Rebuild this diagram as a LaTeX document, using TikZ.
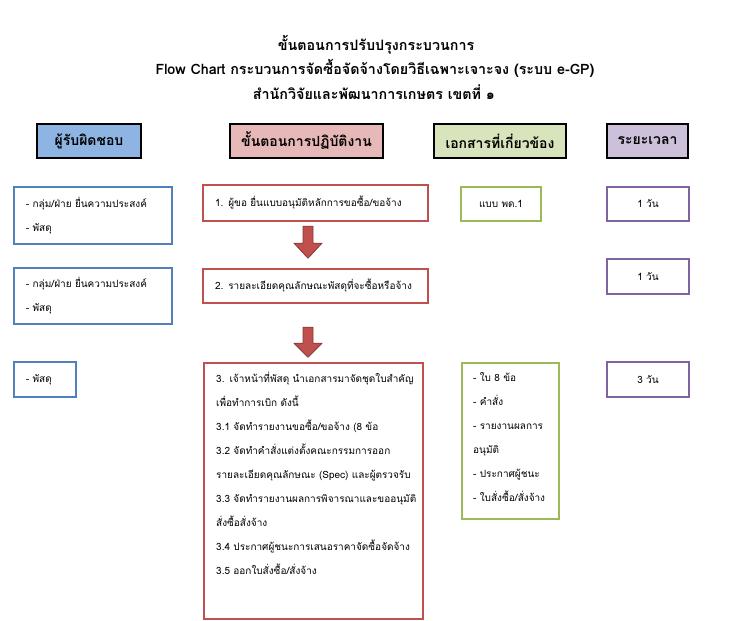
\documentclass[tikz,border=0pt]{standalone}
\usepackage{fontspec}
\setmainfont[Script=Thai]{Loma}
\usetikzlibrary{positioning}
\definecolor{hblue}{HTML}{8DB4E2}
\definecolor{hred}{HTML}{E6B8B7}
\definecolor{hgreen}{HTML}{D7E4BC}
\definecolor{hpurple}{HTML}{CCC0DA}
\definecolor{lblue}{HTML}{4F81BD}
\definecolor{lred}{HTML}{C0504D}
\definecolor{lgreen}{HTML}{9BBB59}
\definecolor{lpurple}{HTML}{8064A2}
\definecolor{adark}{HTML}{8C3836}
\tikzset{
  titletext/.style={font=\fontsize{14.3}{16}\selectfont\bfseries, inner sep=0},
  headbox/.style={draw=black, line width=2.6pt, minimum height=34, inner sep=0,
    font=\fontsize{14}{16}\selectfont\bfseries},
  cellbox/.style={draw, line width=2.4pt, inner xsep=12, inner ysep=0,
    font=\fontsize{10}{24}\selectfont, align=left},
  bigarrow/.style={fill=lred, draw=adark, line width=0.8pt, line join=round}
}
\begin{document}
\begin{tikzpicture}[x=1pt, y=-1pt]
\useasboundingbox (0,0) rectangle (732,621);
% title
\node[titletext] (t1) at (376,45) {ขั้นตอนการปรับปรุงกระบวนการ};
\node[titletext] (t2) at (375,68) {Flow Chart กระบวนการจัดซื้อจัดจ้างโดยวิธีเฉพาะเจาะจง (ระบบ e-GP)};
\node[titletext] (t3) at (374,92) {สำนักวิจัยและพัฒนาการเกษตร เขตที่ ๑};

% column heads
\node[headbox, fill=hblue, minimum width=104] (h1) at (89,141) {ผู้รับผิดชอบ};
\node[headbox, fill=hred, minimum width=153] (h2) at (306.5,141) {ขั้นตอนการปฏิบัติงาน};
\node[headbox, fill=hgreen, minimum width=132] (h3) at (500,141) {เอกสารที่เกี่ยวข้อง};
\node[headbox, fill=hpurple, minimum width=81] (h4) at (647.5,141) {ระยะเวลา};

% who
\node[cellbox, draw=lblue, text width=134, minimum height=57] (b1) at (93,215.5)
  {- กลุ่ม/ฝ่าย ยื่นความประสงค์\\- พัสดุ};
\node[cellbox, draw=lblue, text width=134, minimum height=56] (b2) at (93,296)
  {- กลุ่ม/ฝ่าย ยื่นความประสงค์\\- พัสดุ};
\node[cellbox, draw=lblue, text width=38, minimum height=35] (b3) at (45,379.5)
  {- พัสดุ};

% steps
\node[cellbox, draw=lred, text width=201, minimum height=36] (r1) at (315.5,203)
  {1. ผู้ขอ ยื่นแบบอนุมัติหลักการขอซื้อ/ขอจ้าง};
\node[cellbox, draw=lred, text width=201, minimum height=34] (r2) at (315.5,286)
  {2. รายละเอียดคุณลักษณะพัสดุที่จะซื้อหรือจ้าง};
\node[cellbox, draw=lred, minimum width=219, minimum height=256, anchor=north west] (r3) at (203,362) {};
\node[cellbox, draw=none, text width=206, inner sep=0, anchor=north west] (r3t) at (215,371)
  {3. เจ้าหน้าที่พัสดุ นำเอกสารมาจัดชุดใบสำคัญ\\
   เพื่อทำการเบิก ดังนี้\\
   3.1 จัดทำรายงานขอซื้อ/ขอจ้าง (8 ข้อ\\
   3.2 จัดทำคำสั่งแต่งตั้งคณะกรรมการออก\\
   รายละเอียดคุณลักษณะ (Spec) และผู้ตรวจรับ\\
   3.3 จัดทำรายงานผลการพิจารณาและขออนุมัติ\\
   สั่งซื้อสั่งจ้าง\\
   3.4 ประกาศผู้ชนะการเสนอราคาจัดซื้อจัดจ้าง\\
   3.5 ออกใบสั่งซื้อ/สั่งจ้าง};

% documents
\node[cellbox, draw=lgreen, minimum width=80, minimum height=34, align=center] (g1) at (501,204)
  {แบบ พด.1};
\node[cellbox, draw=lgreen, minimum width=97, minimum height=156, anchor=north west] (g2) at (461,362) {};
\node[cellbox, draw=none, text width=86, inner sep=0, anchor=north west] (g2t) at (472,371)
  {- ใบ 8 ข้อ\\- คำสั่ง\\- รายงานผลการ\\อนุมัติ\\- ประกาศผู้ชนะ\\- ใบสั่งซื้อ/สั่งจ้าง};

% time
\node[cellbox, draw=lpurple, minimum width=82, minimum height=34, align=center] (p1) at (648,204) {1 วัน};
\node[cellbox, draw=lpurple, minimum width=82, minimum height=35, align=center] (p2) at (648,276.5) {1 วัน};
\node[cellbox, draw=lpurple, minimum width=82, minimum height=35, align=center] (p3) at (648,379.5) {3 วัน};

% block arrows
\draw[bigarrow] ([xshift=-12.5pt, yshift=-4pt]r1.south) -- ++(10,0) -- ++(0,17) -- ++(9,0)
  -- ++(-14,15) -- ++(-14,-15) -- ++(9,0) -- cycle;
\draw[bigarrow] ([xshift=-12.5pt, yshift=-23pt]r2.south) -- ++(10,0) -- ++(0,16) -- ++(9,0)
  -- ++(-14,14) -- ++(-14,-14) -- ++(9,0) -- cycle;
\end{tikzpicture}
\end{document}
